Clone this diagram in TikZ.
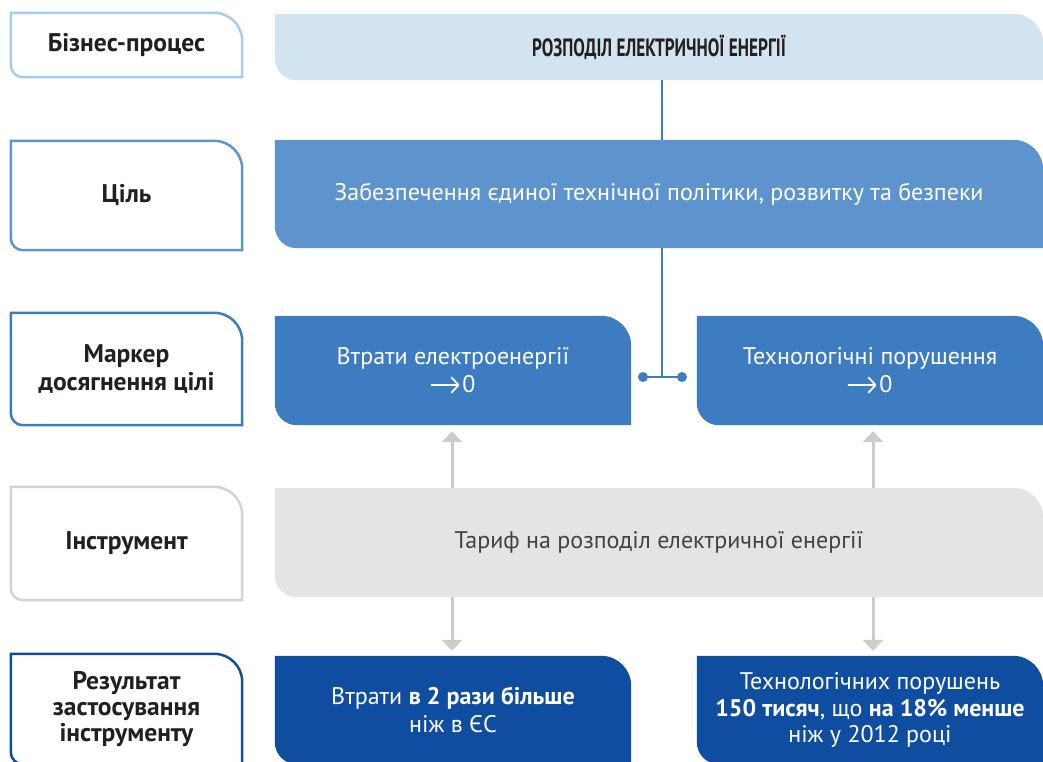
\documentclass[tikz,border=0pt]{standalone}
\usepackage{fontspec}
\setmainfont{PT Sans}
\usetikzlibrary{backgrounds,arrows.meta,calc}

\definecolor{lvA}{HTML}{D2E3F1}
\definecolor{lvAline}{HTML}{A8CBE7}
\definecolor{lvB}{HTML}{5E94CD}
\definecolor{lvC}{HTML}{3E7CC1}
\definecolor{lvD}{HTML}{E4E4E4}
\definecolor{lvDline}{HTML}{D3D3D3}
\definecolor{lvE}{HTML}{0F4DA0}
\definecolor{ink}{HTML}{231F20}
\definecolor{arrowgray}{HTML}{CCCCCC}

\tikzset{
  x=1pt, y=1pt,
  area/.style={inner sep=0pt, align=center},
  label/.style={area, font=\fontsize{25.5}{27.5}\selectfont\bfseries, text=ink},
  body/.style={area, font=\fontsize{24}{28}\selectfont, text=white},
  link/.style={draw=lvC, line width=2pt},
  garrow/.style={draw=arrowgray, line width=3pt,
    -{Triangle[width=20pt,length=11pt]}},
}

% tab shape: large rounding top right (#3), small rounding bottom left (#4)
\newcommand\tabshape[4]{%
  \path[#1] (#2.north west)
    -- ($(#2.north east)+(-#3,0)$) arc[start angle=90,end angle=0,radius=#3]
    -- (#2.south east)
    -- ($(#2.south west)+(#4,0)$) arc[start angle=270,end angle=180,radius=#4]
    -- cycle;}
% small "tends to" arrow set before a value
\newcommand\toward{\tikz[baseline=0pt]\draw[white, line width=1.8pt, line cap=round,
  -{Straight Barb[length=7pt,width=15pt,round]}] (0,7.5) -- (28,7.5);\hspace{2pt}}

\begin{document}
\begin{tikzpicture}
\useasboundingbox (0,0) rectangle (1043,-761);

% left column: row titles
\node[label, minimum width=231, minimum height=64]  (l1) at (126.5,-45)    {Бізнес-процес};
\node[label, minimum width=231, minimum height=109] (l2) at (126.5,-195.5) {Ціль};
\node[label, minimum width=231, minimum height=112] (l3) at (126.5,-369)   {Маркер\\досягнення цілі};
\node[label, minimum width=231, minimum height=113] (l4) at (126.5,-543.5) {Інструмент};
\node[label, font=\fontsize{25.5}{26}\selectfont\bfseries, minimum width=231, minimum height=110] (l5) at (126.5,-709)
  {Результат\\застосування\\інструменту};

% right column: contents
\node[area, minimum width=768, minimum height=66]  (r1) at (659,-47)
  {\scalebox{0.69}[1]{\fontsize{25}{27}\selectfont\bfseries\color{ink}РОЗПОДІЛ ЕЛЕКТРИЧНОЇ ЕНЕРГІЇ}};
\node[body, minimum width=768, minimum height=108]  (r2) at (659,-194) {Забезпечення єдиної технічної політики, розвитку та безпеки};
\node[body, minimum width=356, minimum height=109]  (r3a) at (453,-370.5) {Втрати електроенергії\\\toward0};
\node[body, minimum width=346, minimum height=109]  (r3b) at (870,-370.5) {Технологічні порушення\\\toward0};
\node[body, text=ink!85, minimum width=768, minimum height=109] (r4) at (659,-542.5) {Тариф на розподіл електричної енергії};
\node[body, minimum width=356, minimum height=108]  (r5a) at (453,-710) {Втрати \textbf{в 2 рази більше}\\ніж в ЄС};
\node[body, font=\fontsize{24}{26.5}\selectfont, minimum width=346, minimum height=108]  (r5b) at (870,-710)
  {Технологічних порушень\\\textbf{150 тисяч}, що \textbf{на 18\% менше}\\ніж у 2012 році};

\begin{pgfonlayer}{background}
  \tabshape{draw=lvAline, line width=2.5pt, fill=white}{l1}{28}{12}
  \tabshape{draw=lvB, line width=2.5pt, fill=white}{l2}{28}{12}
  \tabshape{draw=lvC, line width=2.5pt, fill=white}{l3}{28}{12}
  \tabshape{draw=lvDline, line width=2.5pt, fill=white}{l4}{28}{12}
  \tabshape{draw=lvE, line width=2.5pt, fill=white}{l5}{28}{12}
  \tabshape{fill=lvA}{r1}{30}{22}
  \tabshape{fill=lvB}{r2}{30}{22}
  \tabshape{fill=lvC}{r3a}{30}{22}
  \tabshape{fill=lvC}{r3b}{30}{22}
  \tabshape{fill=lvD}{r4}{30}{22}
  \tabshape{fill=lvE}{r5a}{30}{22}
  \tabshape{fill=lvE}{r5b}{30}{22}
\end{pgfonlayer}

% junction of the goal line
\coordinate (j)  at (662,-377);
\coordinate (jl) at (643,-377);
\coordinate (jr) at (682,-377);
\draw[link] (r1.south -| j) -- (r2.north -| j);
\draw[link] (r2.south -| j) -- (j);
\draw[link] (jl) -- (jr);
\fill[lvC] (jl) circle[radius=5];
\fill[lvC] (jr) circle[radius=5];

% instrument arrows
\coordinate (ga) at (452,0);
\coordinate (gb) at (873,0);
\draw[garrow, shorten >=6pt] (r4.north -| ga) -- (r3a.south -| ga);
\draw[garrow, shorten >=6pt] (r4.north -| gb) -- (r3b.south -| gb);
\draw[garrow, shorten >=5pt] (r4.south -| ga) -- (r5a.north -| ga);
\draw[garrow, shorten >=5pt] (r4.south -| gb) -- (r5b.north -| gb);
\end{tikzpicture}
\end{document}
